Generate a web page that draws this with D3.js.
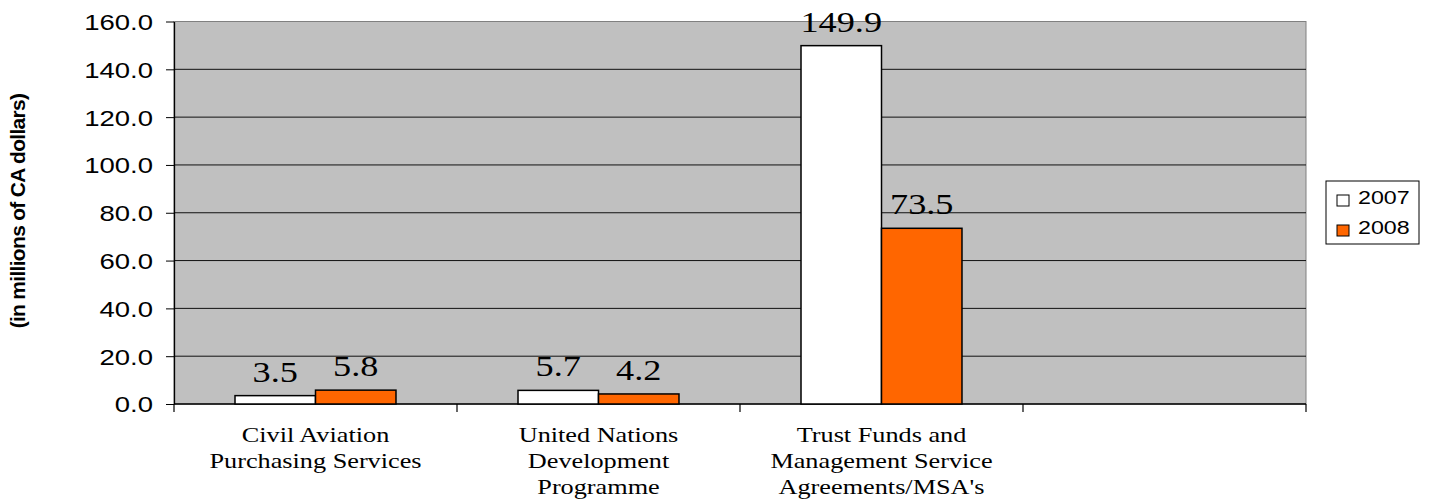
<!DOCTYPE html>
<html>
<head>
<meta charset="utf-8">
<script src="https://cdn.jsdelivr.net/npm/d3@7"></script>
<style>
  html,body{margin:0;padding:0;background:#fff;}
  svg{display:block;}
</style>
</head>
<body>
<div id="chart"></div>
<script>
// data
const categories = [
  "Civil Aviation\nPurchasing Services",
  "United Nations\nDevelopment\nProgramme",
  "Trust Funds and\nManagement Service\nAgreements/MSA's",
  ""
];
const seriesNames = ["2007", "2008"];
const values2007 = [3.5, 5.7, 149.9, null];
const values2008 = [5.8, 4.2, 73.5, null];
const yTicks = [0, 20, 40, 60, 80, 100, 120, 140, 160];
const yTitle = "(in millions of CA dollars)";

(function(){
  const W = 1433, H = 502;
  const left = 174, right = 1306, top = 21.5, bottom = 404;
  const colors = {"2007": "#ffffff", "2008": "#ff6600"};
  const sx = 1.25; // the source picture is stretched sideways

  const svg = d3.select("#chart").append("svg")
      .attr("width", W).attr("height", H);

  const x0 = d3.scaleBand().domain(d3.range(categories.length))
      .range([left, right]).paddingInner(0).paddingOuter(0);
  const x1 = d3.scaleBand().domain(seriesNames)
      .range([0, x0.bandwidth()]).paddingInner(0).paddingOuter(0.758);
  const y = d3.scaleLinear().domain([0, 160]).range([bottom, top]);

  // plot area
  svg.append("rect")
    .attr("x", left).attr("y", top)
    .attr("width", right - left).attr("height", bottom - top)
    .attr("fill", "#c0c0c0").attr("stroke", "#808080").attr("stroke-width", 1);

  // gridlines
  svg.append("g").selectAll("line")
    .data(yTicks.filter(d => d > 0 && d < 160))
    .join("line")
    .attr("x1", left).attr("x2", right)
    .attr("y1", d => y(d)).attr("y2", d => y(d))
    .attr("stroke", "#111").attr("stroke-width", 1);

  // y axis
  const yAxis = svg.append("g")
    .attr("transform", `translate(${left},0)`)
    .call(d3.axisLeft(y).tickValues(yTicks).tickFormat(d3.format(".1f"))
      .tickSizeInner(8).tickSizeOuter(0).tickPadding(13));
  yAxis.select(".domain").attr("stroke", "#000").attr("stroke-width", 1.3);
  yAxis.selectAll(".tick line").attr("stroke", "#000");
  yAxis.selectAll(".tick text")
    .attr("font-family", "Liberation Sans, Arial, sans-serif")
    .attr("font-size", 22).attr("fill", "#000")
    .attr("x", null).attr("dy", null)
    .attr("dominant-baseline", "central")
    .attr("transform", `translate(-21,0) scale(${sx},1)`);

  // x axis line + category boundary ticks
  svg.append("line")
    .attr("x1", left).attr("x2", right)
    .attr("y1", bottom).attr("y2", bottom)
    .attr("stroke", "#000").attr("stroke-width", 1.3);
  svg.append("g").selectAll("line")
    .data(d3.range(categories.length + 1))
    .join("line")
    .attr("x1", i => left + i * x0.step()).attr("x2", i => left + i * x0.step())
    .attr("y1", bottom).attr("y2", bottom + 8)
    .attr("stroke", "#000").attr("stroke-width", 1.2);

  // bars
  const rows = categories.map((c, i) => ({i, vals: [
    {s: "2007", v: values2007[i]}, {s: "2008", v: values2008[i]}
  ]}));
  const grp = svg.append("g").selectAll("g")
    .data(rows).join("g")
    .attr("transform", d => `translate(${x0(d.i)},0)`);

  grp.selectAll("rect")
    .data(d => d.vals.filter(v => v.v != null))
    .join("rect")
    .attr("x", d => x1(d.s)).attr("width", x1.bandwidth())
    .attr("y", d => y(d.v)).attr("height", d => y(0) - y(d.v))
    .attr("fill", d => colors[d.s])
    .attr("stroke", "#000").attr("stroke-width", 1.5);

  grp.selectAll("text.val")
    .data(d => d.vals.filter(v => v.v != null))
    .join("text")
    .attr("class", "val")
    .attr("transform", d => `translate(${x1(d.s) + x1.bandwidth() / 2},${y(d.v) - 14}) scale(${sx},1)`)
    .attr("text-anchor", "middle")
    .attr("font-family", "Liberation Serif, Times New Roman, serif")
    .attr("font-size", 29).attr("fill", "#000")
    .text(d => d.v.toFixed(1));

  // category labels
  const cat = svg.append("g").selectAll("text")
    .data(categories.map((c, i) => ({i, lines: c ? c.split("\n") : []})))
    .join("text")
    .attr("text-anchor", "middle")
    .attr("font-family", "Liberation Serif, Times New Roman, serif")
    .attr("font-size", 21).attr("fill", "#000")
    .attr("transform", d => `translate(${x0(d.i) + x0.bandwidth() / 2},442) scale(${sx},1)`);
  cat.selectAll("tspan")
    .data(d => d.lines)
    .join("tspan")
    .attr("x", 0).attr("y", (d, k) => k * 26)
    .text(d => d);

  // y title
  svg.append("text")
    .attr("transform", "translate(17.5,211) rotate(-90)")
    .attr("text-anchor", "middle")
    .attr("dominant-baseline", "central")
    .attr("font-family", "Liberation Sans, Arial, sans-serif")
    .attr("font-weight", "bold")
    .attr("font-size", 21)
    .attr("letter-spacing", -0.7)
    .text(yTitle);

  // legend
  const lg = svg.append("g").attr("transform", "translate(1326,181)");
  lg.append("rect")
    .attr("width", 93).attr("height", 63)
    .attr("fill", "#fff").attr("stroke", "#000").attr("stroke-width", 1);
  const item = lg.selectAll("g.item")
    .data(seriesNames).join("g")
    .attr("class", "item")
    .attr("transform", (d, i) => `translate(11,${14 + i * 30})`);
  item.append("rect")
    .attr("width", 12).attr("height", 11)
    .attr("fill", d => colors[d]).attr("stroke", "#000").attr("stroke-width", 1);
  item.append("text")
    .attr("transform", `translate(21,8.5) scale(${sx},1)`)
    .attr("font-family", "Liberation Sans, Arial, sans-serif")
    .attr("font-size", 18.6).attr("fill", "#000")
    .text(d => d);
})();
</script>
</body>
</html>
